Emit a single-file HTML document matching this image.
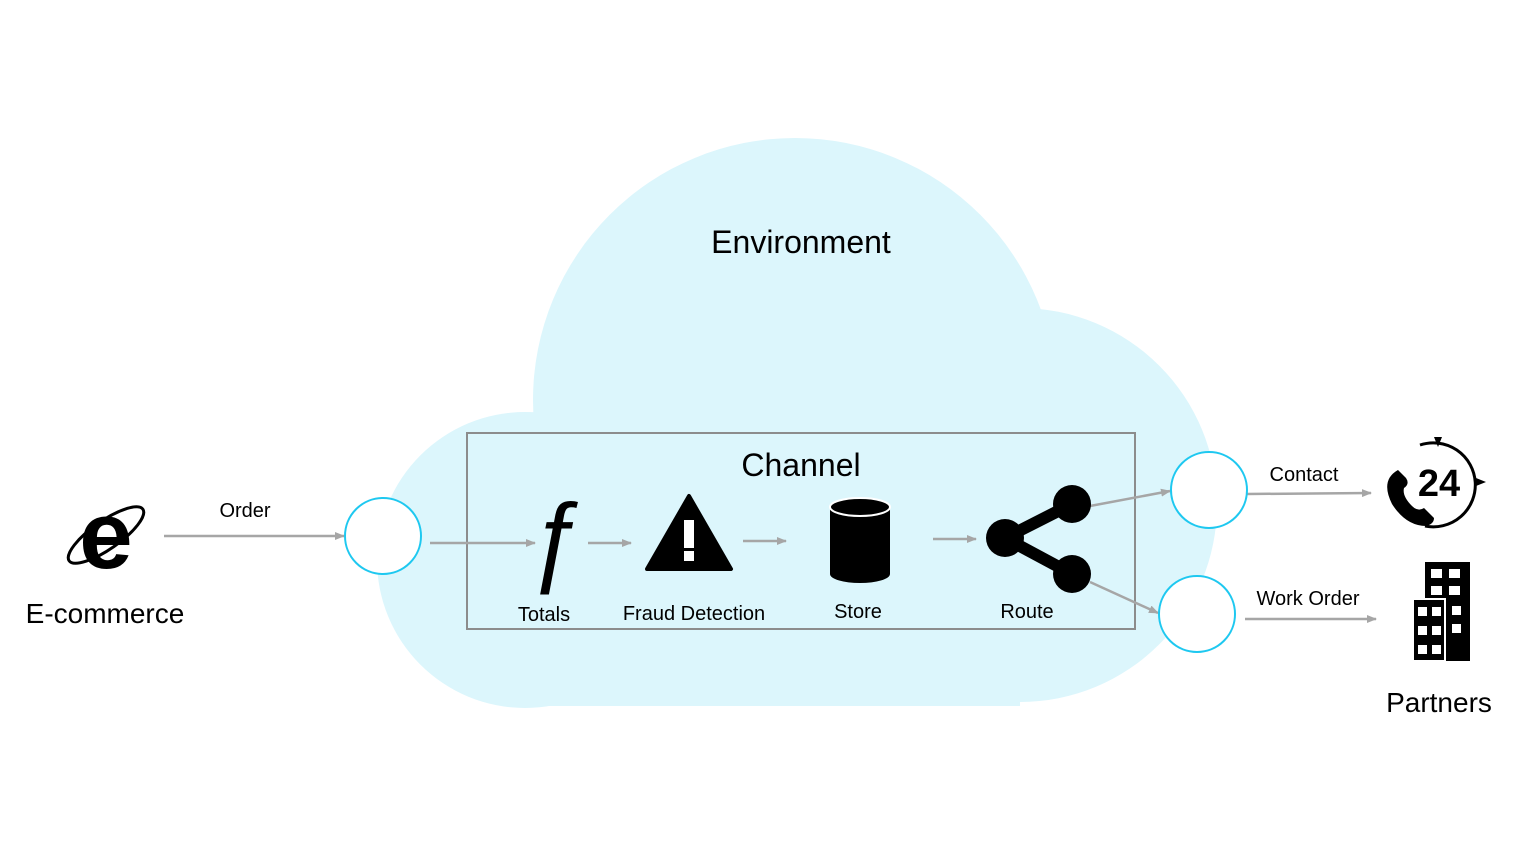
<!DOCTYPE html>
<html><head><style>body{margin:0;background:#fff}svg{display:block}text{font-family:"Liberation Sans",sans-serif}</style></head><body>
<svg width="1533" height="845" viewBox="0 0 1533 845">
<defs><marker id="a" markerWidth="10" markerHeight="8" refX="9" refY="4" orient="auto" markerUnits="userSpaceOnUse"><path d="M0,0L10,4L0,8z" fill="#a6a6a6"/></marker></defs>
<g fill="#dcf6fc">
<circle cx="795" cy="400" r="262"/>
<circle cx="525" cy="560" r="148"/>
<circle cx="1020" cy="505" r="197"/>
<rect x="520" y="480" width="500" height="226"/>
</g>
<text x="801" y="253" font-size="32" text-anchor="middle">Environment</text>
<rect x="467" y="433" width="668" height="196" fill="none" stroke="#8c8c8c" stroke-width="2"/>
<text x="801" y="476" font-size="32" text-anchor="middle">Channel</text>
<g stroke="#a6a6a6" stroke-width="2.5" fill="none" marker-end="url(#a)">
<line x1="164" y1="536" x2="344" y2="536"/>
<line x1="430" y1="543" x2="535" y2="543"/>
<line x1="588" y1="543" x2="631" y2="543"/>
<line x1="743" y1="541" x2="786" y2="541"/>
<line x1="933" y1="539" x2="976" y2="539"/>
<line x1="1090" y1="506" x2="1170" y2="491"/>
<line x1="1090" y1="582" x2="1158" y2="613"/>
<line x1="1247" y1="494" x2="1371" y2="493"/>
<line x1="1245" y1="619" x2="1376" y2="619"/>
</g>
<g fill="#fff" stroke="#1ec8f0" stroke-width="2">
<circle cx="383" cy="536" r="38"/><circle cx="1209" cy="490" r="38"/><circle cx="1197" cy="614" r="38"/>
</g>
<g font-size="20" text-anchor="middle">
<text x="245" y="517">Order</text>
<text x="544" y="621">Totals</text>
<text x="694" y="620">Fraud Detection</text>
<text x="858" y="618">Store</text>
<text x="1027" y="618">Route</text>
<text x="1304" y="481">Contact</text>
<text x="1308" y="605">Work Order</text>
</g>
<text x="105" y="623" font-size="28" text-anchor="middle">E-commerce</text>
<text x="1439" y="712" font-size="28" text-anchor="middle">Partners</text>
<text x="554" y="572" font-size="100" font-style="italic" font-family="Liberation Serif" text-anchor="middle">ƒ</text>
<path d="M689,496L731,569L647,569Z" fill="#000" stroke="#000" stroke-width="4" stroke-linejoin="round"/>
<rect x="684" y="520" width="10" height="28" fill="#fff"/><rect x="684" y="551" width="10" height="10" fill="#fff"/>
<path d="M830,508 v66 a30,9 0 0 0 60,0 v-66z" fill="#000"/>
<ellipse cx="860" cy="507" rx="30" ry="9" fill="#000" stroke="#fff" stroke-width="2"/>
<g fill="#000"><line x1="1005" y1="538" x2="1072" y2="504" stroke="#000" stroke-width="12"/><line x1="1005" y1="538" x2="1072" y2="574" stroke="#000" stroke-width="12"/>
<circle cx="1005" cy="538" r="19"/><circle cx="1072" cy="504" r="19"/><circle cx="1072" cy="574" r="19"/></g>
<text x="106" y="568" font-size="96" font-weight="bold" text-anchor="middle">e</text>
<ellipse cx="106" cy="535" rx="45" ry="14" transform="rotate(-35 106 535)" fill="none" stroke="#000" stroke-width="3"/>
<path d="M1420,445 A42,42 0 1 1 1425,526" fill="none" stroke="#000" stroke-width="3"/>
<path d="M1434,437l4,10l4,-10z M1486,482l-10,-4l0,8z" fill="#000"/>
<text x="1439" y="496" font-size="38" font-weight="bold" text-anchor="middle">24</text>
<path d="M1398,470 q-18,10 -6,34 q14,22 34,22 q8,-2 8,-8 l-10,-10 q-6,4 -12,-2 q-10,-10 -8,-18 q6,-4 2,-10z" fill="#000"/>
<rect x="1425" y="562" width="45" height="99" fill="#000"/>
<rect x="1413" y="599" width="32" height="62" fill="#000" stroke="#fff" stroke-width="2"/>
<g fill="#fff">
<rect x="1431" y="569" width="11" height="9"/><rect x="1449" y="569" width="11" height="9"/>
<rect x="1431" y="586" width="11" height="9"/><rect x="1449" y="586" width="11" height="9"/>
<rect x="1452" y="606" width="9" height="9"/><rect x="1452" y="624" width="9" height="9"/>
<rect x="1418" y="607" width="9" height="9"/><rect x="1432" y="607" width="9" height="9"/>
<rect x="1418" y="626" width="9" height="9"/><rect x="1432" y="626" width="9" height="9"/>
<rect x="1418" y="645" width="9" height="9"/><rect x="1432" y="645" width="9" height="9"/>
</g>
</svg>
</body></html>
